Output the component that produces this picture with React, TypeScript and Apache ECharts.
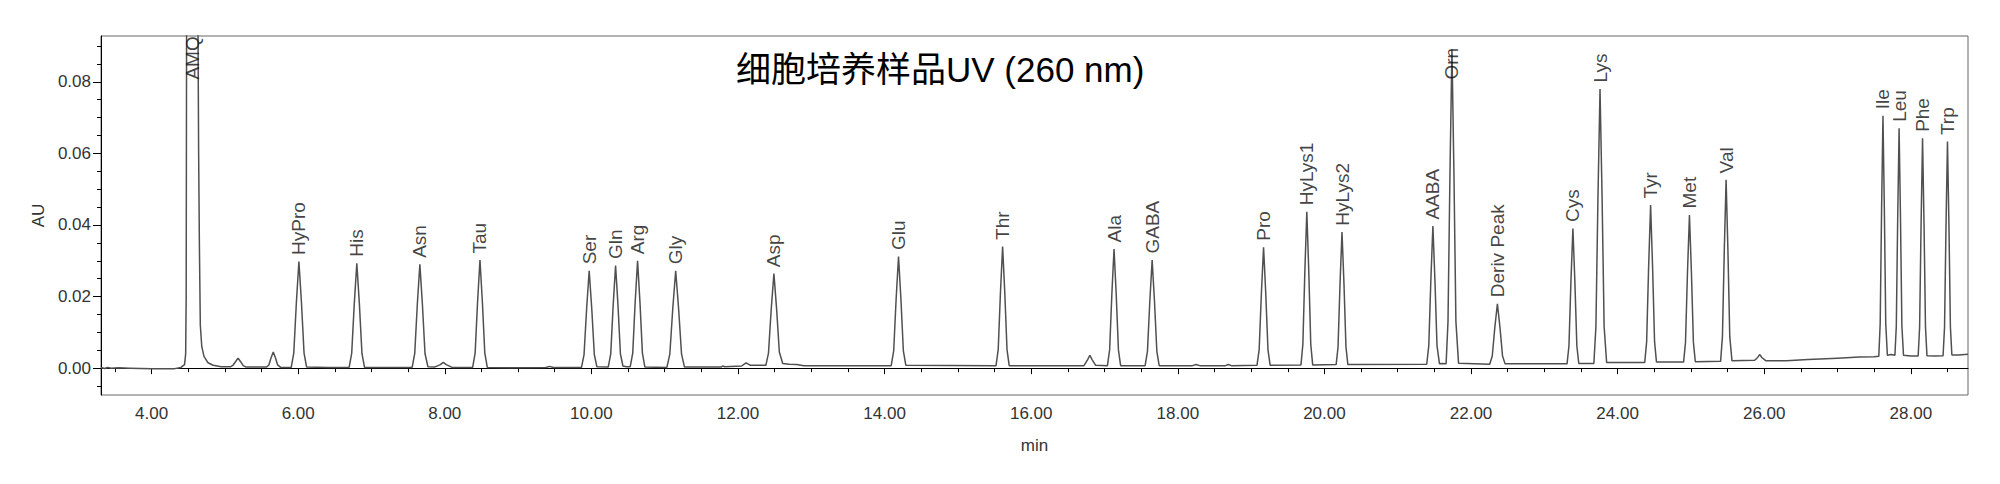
import React, { useEffect, useRef } from 'react';
import * as echarts from 'echarts';

// Peak labels (retention time in min, apex absorbance in AU)
const peakNames = ['AMQ', 'HyPro', 'His', 'Asn', 'Tau', 'Ser', 'Gln', 'Arg', 'Gly', 'Asp', 'Glu', 'Thr', 'Ala', 'GABA', 'Pro', 'HyLys1', 'HyLys2', 'AABA', 'Orn', 'Deriv Peak', 'Cys', 'Lys', 'Tyr', 'Met', 'Val', 'Ile', 'Leu', 'Phe', 'Trp'];
const peakTimes = [4.56, 6.01, 6.80, 7.66, 8.48, 9.97, 10.33, 10.63, 11.15, 12.49, 14.19, 15.61, 17.13, 17.65, 19.17, 19.76, 20.24, 21.48, 21.74, 22.36, 23.39, 23.76, 24.45, 24.98, 25.48, 27.62, 27.84, 28.16, 28.50];
const peakHeights = [0.2, 0.0298, 0.0293, 0.029, 0.0302, 0.0272, 0.0287, 0.030, 0.0272, 0.0264, 0.0312, 0.034, 0.0333, 0.0302, 0.0338, 0.0437, 0.038, 0.0397, 0.089, 0.018, 0.039, 0.078, 0.0456, 0.0428, 0.0526, 0.0705, 0.067, 0.0642, 0.0633];

// Chromatogram trace: [time (min), AU]
const trace: [number, number][] = [
  [3.31, 0.0002], [3.36, -0.0001], [3.40, 0.0002], [3.45, 0.0000], [3.55, 0.0001], [3.70, 0.0000], [4.00, -0.0002], [4.30, -0.0002], [4.40, 0.0002], [4.45, 0.0010],
  [4.465, 0.004], [4.472, 0.02], [4.478, 0.1], [4.50, 0.2], [4.60, 0.2], [4.632, 0.1], [4.642, 0.06], [4.652, 0.035], [4.665, 0.012], [4.685, 0.006], [4.715, 0.0033], [4.77, 0.0015], [4.84, 0.0008], [4.95, 0.0004],
  [5.08, 0.0004], [5.11, 0.0008], [5.145, 0.0018], [5.18, 0.0028], [5.215, 0.0018], [5.25, 0.0007], [5.29, 0.0003],
  [5.57, 0.0003], [5.60, 0.0009], [5.63, 0.0029], [5.66, 0.0045], [5.69, 0.0029], [5.72, 0.0009], [5.76, 0.0002],
  [5.905, 0.0002], [5.94, 0.0042], [5.975, 0.0182], [6.01, 0.0298], [6.045, 0.0182], [6.08, 0.0042], [6.115, 0.0003],
  [6.40, 0.0002],
  [6.695, 0.0002], [6.73, 0.0041], [6.765, 0.0179], [6.80, 0.0293], [6.835, 0.0179], [6.87, 0.0041], [6.905, 0.0002],
  [7.20, 0.0002],
  [7.555, 0.0002], [7.59, 0.0041], [7.625, 0.0177], [7.66, 0.029], [7.695, 0.0177], [7.73, 0.0041], [7.77, 0.0004],
  [7.86, 0.0003], [7.94, 0.0010], [7.98, 0.0016], [8.02, 0.0010], [8.10, 0.0002],
  [8.38, 0.0002], [8.414, 0.0042], [8.447, 0.0184], [8.48, 0.0302], [8.513, 0.0184], [8.546, 0.0042], [8.58, 0.0002],
  [9.00, 0.0001], [9.38, 0.0002], [9.43, 0.0005], [9.48, 0.0002],
  [9.865, 0.0002], [9.90, 0.0038], [9.935, 0.0166], [9.97, 0.0272], [10.005, 0.0166], [10.04, 0.0038], [10.075, 0.0004],
  [10.23, 0.0003], [10.264, 0.0040], [10.297, 0.0175], [10.33, 0.0287], [10.363, 0.0175], [10.396, 0.0040], [10.43, 0.0006], [10.48, 0.0004],
  [10.53, 0.0004], [10.564, 0.0042], [10.597, 0.0183], [10.63, 0.030], [10.663, 0.0183], [10.696, 0.0042], [10.73, 0.0003],
  [11.03, 0.0002], [11.07, 0.0039], [11.11, 0.0166], [11.15, 0.0272], [11.19, 0.0166], [11.23, 0.0039], [11.27, 0.0003],
  [11.77, 0.0003], [11.79, 0.0006], [11.82, 0.0004],
  [12.05, 0.0006], [12.11, 0.0015], [12.17, 0.0008],
  [12.38, 0.0008], [12.416, 0.0042], [12.453, 0.0164], [12.49, 0.0264], [12.527, 0.0165], [12.564, 0.0045], [12.61, 0.0013], [12.70, 0.0011], [12.80, 0.0010], [12.90, 0.0007],
  [14.09, 0.0007], [14.124, 0.0048], [14.157, 0.0192], [14.19, 0.0312], [14.223, 0.0192], [14.256, 0.0048], [14.29, 0.0008],
  [15.52, 0.0007], [15.55, 0.0052], [15.58, 0.0209], [15.61, 0.034], [15.64, 0.0209], [15.67, 0.0052], [15.70, 0.0007],
  [16.72, 0.0007], [16.77, 0.0024], [16.80, 0.0036], [16.83, 0.0024], [16.88, 0.0008],
  [17.04, 0.0007], [17.07, 0.0051], [17.10, 0.0205], [17.13, 0.0333], [17.16, 0.0205], [17.19, 0.0051], [17.22, 0.0007],
  [17.554, 0.0007], [17.586, 0.0047], [17.618, 0.0186], [17.65, 0.0302], [17.682, 0.0186], [17.714, 0.0047], [17.746, 0.0007],
  [18.20, 0.0007], [18.25, 0.0010], [18.30, 0.0007], [18.65, 0.0007], [18.69, 0.0010], [18.73, 0.0007],
  [19.08, 0.0008], [19.11, 0.0052], [19.14, 0.0208], [19.17, 0.0338], [19.20, 0.0208], [19.23, 0.0052], [19.26, 0.0008],
  [19.68, 0.0009], [19.706, 0.0066], [19.733, 0.0269], [19.76, 0.0437], [19.787, 0.0269], [19.814, 0.0066], [19.84, 0.0009],
  [20.16, 0.0010], [20.186, 0.0059], [20.213, 0.0235], [20.24, 0.038], [20.267, 0.0235], [20.294, 0.0059], [20.32, 0.0010],
  [21.396, 0.0011], [21.424, 0.0063], [21.452, 0.0245], [21.48, 0.0397], [21.508, 0.0245], [21.536, 0.0063], [21.57, 0.0012],
  [21.60, 0.0013],
  [21.66, 0.0012], [21.686, 0.0130], [21.713, 0.0545], [21.74, 0.089], [21.767, 0.0545], [21.794, 0.0130], [21.83, 0.0014],
  [22.255, 0.0011], [22.29, 0.0034], [22.325, 0.0114], [22.36, 0.018], [22.395, 0.0114], [22.43, 0.0034], [22.465, 0.0012],
  [23.31, 0.0012], [23.336, 0.0062], [23.363, 0.0241], [23.39, 0.039], [23.417, 0.0241], [23.444, 0.0062], [23.47, 0.0013],
  [23.676, 0.0013], [23.704, 0.0116], [23.732, 0.0478], [23.76, 0.078], [23.788, 0.0478], [23.816, 0.0116], [23.85, 0.0016],
  [24.37, 0.0016], [24.396, 0.0074], [24.423, 0.0283], [24.45, 0.0456], [24.477, 0.0283], [24.504, 0.0074], [24.53, 0.0017],
  [24.90, 0.0017], [24.926, 0.0072], [24.953, 0.0267], [24.98, 0.0428], [25.007, 0.0267], [25.034, 0.0072], [25.06, 0.0018],
  [25.405, 0.0019], [25.43, 0.0088], [25.455, 0.0327], [25.48, 0.0526], [25.505, 0.0327], [25.53, 0.0088], [25.56, 0.0021],
  [25.87, 0.0022], [25.91, 0.0030], [25.94, 0.0038], [25.97, 0.0029], [26.02, 0.0021],
  [26.30, 0.0021], [26.60, 0.0024], [27.00, 0.0028], [27.30, 0.0031], [27.50, 0.0032],
  [27.563, 0.0033], [27.582, 0.0124], [27.601, 0.0441], [27.62, 0.0705], [27.639, 0.0441], [27.658, 0.0124], [27.68, 0.0036],
  [27.73, 0.0038],
  [27.783, 0.0036], [27.802, 0.0118], [27.821, 0.042], [27.84, 0.067], [27.859, 0.042], [27.878, 0.0118], [27.90, 0.0036],
  [28.00, 0.0034],
  [28.10, 0.0034], [28.12, 0.0115], [28.14, 0.0403], [28.16, 0.0642], [28.18, 0.0403], [28.20, 0.0115], [28.22, 0.0035],
  [28.33, 0.0034],
  [28.44, 0.0035], [28.46, 0.0115], [28.48, 0.0398], [28.50, 0.0633], [28.52, 0.0398], [28.54, 0.0115], [28.56, 0.0037], [28.65, 0.0037], [28.78, 0.0039],
];

// Axis ticks
const xMajorTicks = [4, 6, 8, 10, 12, 14, 16, 18, 20, 22, 24, 26, 28];
const xMinorTicks = [3.5, 4.5, 5, 5.5, 6.5, 7, 7.5, 8.5, 9, 9.5, 10.5, 11, 11.5, 12.5, 13, 13.5, 14.5, 15, 15.5, 16.5, 17, 17.5, 18.5, 19, 19.5, 20.5, 21, 21.5, 22.5, 23, 23.5, 24.5, 25, 25.5, 26.5, 27, 27.5, 28.5];
const yMajorTicks = [0, 0.02, 0.04, 0.06, 0.08];
const yMinorTicks = [-0.005, 0.005, 0.01, 0.015, 0.025, 0.03, 0.035, 0.045, 0.05, 0.055, 0.065, 0.07, 0.075, 0.085, 0.09];

const X_MIN = 3.31;
const X_MAX = 28.78;
const Y_MIN = -0.0075;
const Y_MAX = 0.0928;
const LABEL_CAP = 0.0788;

const FONT = '"Liberation Sans", Arial, sans-serif';

export default function App() {
  const ref = useRef<HTMLDivElement>(null);
  useEffect(() => {
    const chart = echarts.init(ref.current!, null, { renderer: 'svg' });
    const labelData = peakNames.map((n, i) => ({
      name: n,
      value: [peakTimes[i], Math.min(peakHeights[i], LABEL_CAP)],
    }));
    chart.setOption({
      animation: false,
      backgroundColor: '#fff',
      title: {
        text: '细胞培养样品UV (260 nm)',
        left: 736,
        top: 52,
        padding: 0,
        textStyle: {
          fontSize: 35,
          fontWeight: 'normal',
          color: '#000',
          fontFamily: '"Liberation Sans", "Noto Sans CJK SC", sans-serif',
        },
      },
      grid: {
        left: 101,
        right: 32,
        top: 36,
        bottom: 89,
        show: true,
        borderColor: '#666',
        borderWidth: 1,
        backgroundColor: 'transparent',
      },
      xAxis: [
        {
          type: 'value',
          min: X_MIN,
          max: X_MAX,
          position: 'bottom',
          name: 'min',
          nameLocation: 'middle',
          nameGap: 42,
          nameTextStyle: { fontSize: 17, color: '#333', fontFamily: FONT },
          axisLine: { show: true, lineStyle: { color: '#000', width: 1 } },
          axisTick: { show: true, length: 6, customValues: xMajorTicks, lineStyle: { color: '#000' } },
          axisLabel: {
            show: true,
            customValues: xMajorTicks,
            formatter: (v: number) => v.toFixed(2),
            fontSize: 17,
            color: '#333',
            fontFamily: FONT,
            margin: 10,
          },
          splitLine: { show: false },
        },
        {
          type: 'value',
          min: X_MIN,
          max: X_MAX,
          position: 'bottom',
          axisLine: { show: false },
          axisTick: { show: true, length: 4, customValues: xMinorTicks, lineStyle: { color: '#000' } },
          axisLabel: { show: false },
          splitLine: { show: false },
        },
      ],
      yAxis: [
        {
          type: 'value',
          min: Y_MIN,
          max: Y_MAX,
          position: 'left',
          name: 'AU',
          nameLocation: 'middle',
          nameGap: 50,
          nameTextStyle: { fontSize: 17, color: '#333', fontFamily: FONT },
          axisLine: { show: true, lineStyle: { color: '#000', width: 1 } },
          axisTick: { show: true, length: 8, customValues: yMajorTicks, lineStyle: { color: '#000' } },
          axisLabel: {
            show: true,
            customValues: yMajorTicks,
            formatter: (v: number) => v.toFixed(2),
            fontSize: 17,
            color: '#333',
            fontFamily: FONT,
            margin: 10,
          },
          splitLine: { show: false },
        },
        {
          type: 'value',
          min: Y_MIN,
          max: Y_MAX,
          position: 'left',
          axisLine: { show: false },
          axisTick: { show: true, length: 4, customValues: yMinorTicks, lineStyle: { color: '#000' } },
          axisLabel: { show: false },
          splitLine: { show: false },
        },
      ],
      series: [
        {
          type: 'line',
          xAxisIndex: 0,
          yAxisIndex: 0,
          data: trace,
          showSymbol: false,
          symbol: 'none',
          clip: true,
          lineStyle: { color: '#505050', width: 1.5 },
          z: 2,
        },
        {
          type: 'scatter',
          xAxisIndex: 0,
          yAxisIndex: 0,
          data: labelData,
          symbolSize: 1,
          itemStyle: { color: 'rgba(0,0,0,0)' },
          label: {
            show: true,
            position: 'top',
            distance: 6,
            rotate: 90,
            align: 'left',
            verticalAlign: 'middle',
            formatter: (p: any) => p.name,
            fontSize: 19,
            color: '#111',
            fontFamily: FONT,
          },
          z: 3,
        },
      ],
    });
    return () => chart.dispose();
  }, []);
  return (
    <div
      ref={ref}
      style={{ position: 'fixed', left: 0, top: 0, width: 2000, height: 484, background: '#fff' }}
    />
  );
}
